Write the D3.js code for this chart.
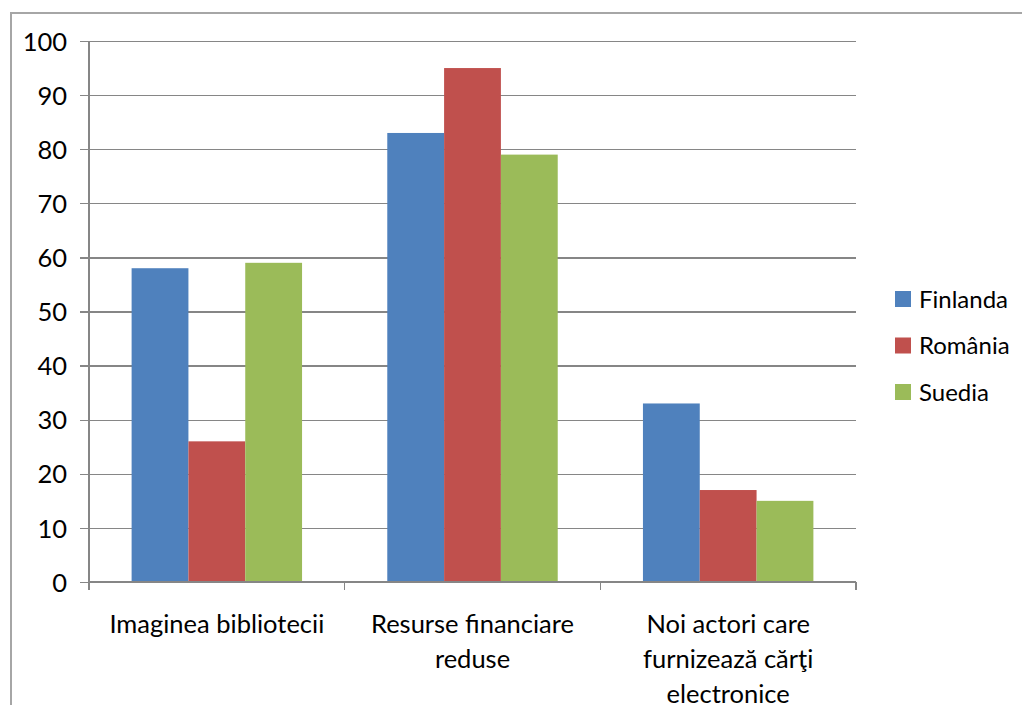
<!DOCTYPE html>
<html>
<head>
<meta charset="utf-8">
<script src="https://cdn.jsdelivr.net/npm/d3@7"></script>
<style>
  html, body { margin: 0; padding: 0; background: #fff; }
  svg { display: block; }
  text { font-family: "Lato", "Open Sans", sans-serif; fill: #000; }
</style>
</head>
<body>
<svg id="chart" width="1022" height="705"></svg>
<script>
// Chart data
const categories = ["Imaginea bibliotecii", "Resurse financiare reduse", "Noi actori care furnizează cărţi electronice"];
const seriesNames = ["Finlanda", "România", "Suedia"];
const finlanda = [58, 83, 33];
const romania = [26, 95, 17];
const suedia = [59, 79, 15];
const yTicks = [0, 10, 20, 30, 40, 50, 60, 70, 80, 90, 100];
const seriesColors = ["#4F81BD", "#C0504D", "#9BBB59"];

const seriesValues = [finlanda, romania, suedia];
const rows = categories.map((c, i) => ({
  category: c,
  values: seriesNames.map((s, j) => ({ series: s, value: seriesValues[j][i] }))
}));

const svg = d3.select("#chart");
const margin = { left: 89, right: 1022 - 856, top: 41, bottom: 705 - 582 };
const plotW = 1022 - margin.left - margin.right;
const plotH = 705 - margin.top - margin.bottom;
const FONT = 25.5;

// Outer chart frame
svg.append("path")
  .attr("d", "M11,705 L11,13 L1022,13")
  .attr("fill", "none")
  .attr("stroke", "#a6a6a6")
  .attr("stroke-width", 2);

const g = svg.append("g").attr("transform", `translate(${margin.left},${margin.top})`);

const x0 = d3.scaleBand().domain(categories).range([0, plotW]).paddingInner(0).paddingOuter(0);
const x1 = d3.scaleBand().domain(seriesNames).range([0, x0.bandwidth()]).paddingInner(0).paddingOuter(0.75);
const y = d3.scaleLinear().domain([0, 100]).range([plotH, 0]);
const color = d3.scaleOrdinal().domain(seriesNames).range(seriesColors);

// Horizontal gridlines with short ticks to the left
const yAxis = d3.axisLeft(y).tickValues(yTicks).tickSize(-plotW).tickPadding(22).tickSizeOuter(0);
const yG = g.append("g").call(yAxis);
yG.select(".domain").remove();
yG.selectAll(".tick line")
  .attr("x1", -9)
  .attr("stroke", "#868686")
  .attr("stroke-width", 1.3)
  .attr("shape-rendering", "crispEdges");
yG.selectAll(".tick text")
  .attr("font-size", FONT)
  .attr("font-family", "Lato, 'Open Sans', sans-serif")
  .attr("fill", "#000")
  .attr("dy", "0.36em");

// Vertical axis line
g.append("line")
  .attr("x1", 0).attr("x2", 0).attr("y1", 0).attr("y2", plotH)
  .attr("stroke", "#868686").attr("stroke-width", 1.3)
  .attr("shape-rendering", "crispEdges");

// Bars
const groups = g.selectAll("g.cat").data(rows).join("g")
  .attr("class", "cat")
  .attr("transform", d => `translate(${x0(d.category)},0)`);
groups.selectAll("rect").data(d => d.values).join("rect")
  .attr("x", d => x1(d.series))
  .attr("width", x1.bandwidth())
  .attr("y", d => y(d.value))
  .attr("height", d => plotH - y(d.value))
  .attr("fill", d => color(d.series));

// Category axis
const xG = g.append("g").attr("transform", `translate(0,${plotH})`);
xG.append("line")
  .attr("x1", 0).attr("x2", plotW)
  .attr("stroke", "#868686").attr("stroke-width", 1.3)
  .attr("shape-rendering", "crispEdges");
const boundaries = categories.map(c => x0(c)).concat([plotW]);
xG.selectAll("line.tick").data(boundaries).join("line")
  .attr("class", "tick")
  .attr("x1", d => d).attr("x2", d => d)
  .attr("y1", 0).attr("y2", 8)
  .attr("stroke", "#868686").attr("stroke-width", 1.3)
  .attr("shape-rendering", "crispEdges");

// Wrap category labels to the category width
function wrapWords(text, maxW, measure) {
  const words = text.split(" ");
  const lines = [];
  let cur = "";
  words.forEach(w => {
    const t = cur ? cur + " " + w : w;
    if (cur && measure(t) > maxW) { lines.push(cur); cur = w; }
    else cur = t;
  });
  if (cur) lines.push(cur);
  return lines;
}
const probe = svg.append("text").attr("font-size", FONT).attr("visibility", "hidden");
const measure = s => { probe.text(s); return probe.node().getComputedTextLength(); };

categories.forEach(c => {
  const lines = wrapWords(c, x0.bandwidth() - 20, measure);
  const t = xG.append("text")
    .attr("text-anchor", "middle")
    .attr("font-size", FONT)
    .attr("x", x0(c) + x0.bandwidth() / 2);
  lines.forEach((line, i) => {
    t.append("tspan")
      .attr("x", x0(c) + x0.bandwidth() / 2)
      .attr("y", 51 + i * 35)
      .text(line);
  });
});
probe.remove();

// Legend
const legend = svg.append("g").attr("transform", "translate(895,291)");
const items = legend.selectAll("g").data(seriesNames).join("g")
  .attr("transform", (d, i) => `translate(0,${i * 46.5})`);
items.append("rect")
  .attr("width", 16).attr("height", 16)
  .attr("fill", d => color(d));
items.append("text")
  .attr("x", 24).attr("y", 8)
  .attr("dy", "0.36em")
  .attr("font-size", 24)
  .text(d => d);
</script>
</body>
</html>
